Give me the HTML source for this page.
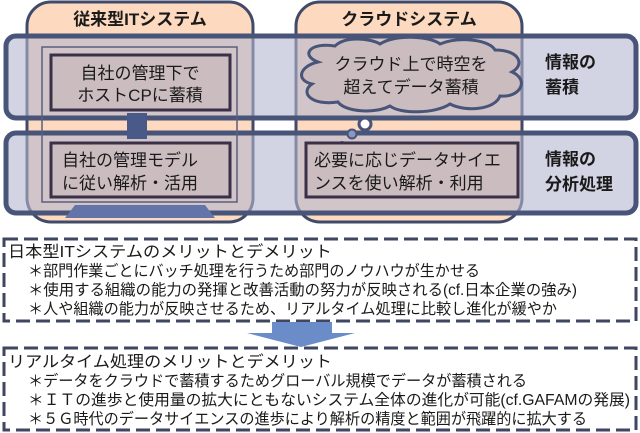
<!DOCTYPE html>
<html><head><meta charset="utf-8"><style>
body{margin:0;background:#fff;width:640px;height:433px;overflow:hidden}
svg{display:block}
text{font-family:"Liberation Sans","Noto Sans CJK JP",sans-serif;fill:#1a1a1a}
</style></head><body>
<svg width="640" height="433" viewBox="0 0 640 433">
<rect x="27" y="2" width="226" height="220" rx="24" fill="#fcd9bf" stroke="#404a6a" stroke-width="3"/>
<rect x="296" y="2" width="226" height="220" rx="24" fill="#fcd9bf" stroke="#404a6a" stroke-width="3"/>
<text x="140" y="25" font-size="17" font-weight="bold" text-anchor="middle">従来型ITシステム</text>
<text x="409" y="25" font-size="17" font-weight="bold" text-anchor="middle">クラウドシステム</text>
<rect x="6" y="36" width="630" height="82" rx="10" fill="#b4b8d0" fill-opacity="0.6" stroke="#485478" stroke-width="5"/>
<rect x="6" y="133" width="630" height="80" rx="10" fill="#b4b8d0" fill-opacity="0.6" stroke="#485478" stroke-width="5"/>
<rect x="42" y="47" width="195" height="155" fill="none" stroke="#5a5f7a" stroke-width="1.5"/>
<polygon points="75,205 205,205 215,218 65,218" fill="#6274a8"/>
<rect x="127" y="113" width="20" height="26" fill="#4a5a88"/>
<rect x="51" y="55" width="179" height="55" fill="#cbbcc0" stroke="#3a3048" stroke-width="3"/>
<rect x="51" y="143" width="179" height="54" fill="#cbbcc0" stroke="#3a3048" stroke-width="3"/>
<text x="140" y="79" font-size="17" text-anchor="middle">自社の管理下で</text>
<text x="140" y="101" font-size="17" text-anchor="middle">ホストCPに蓄積</text>
<text x="62" y="166" font-size="17">自社の管理モデル</text>
<text x="62" y="189" font-size="17">に従い解析・活用</text>
<path d="M318,62 C300,55 310,42 335,46 C345,36 370,38 380,44 C395,34 430,36 440,44 C460,36 490,40 495,50 C520,50 525,65 512,72 C530,80 520,98 500,96 C495,110 465,112 450,104 C435,114 400,114 390,106 C375,114 345,112 338,102 C310,106 300,92 312,84 C295,80 300,66 318,62 Z" fill="#cbbcc0" stroke="#485478" stroke-width="3"/>
<circle cx="365" cy="124" r="6" fill="#fff" stroke="#485478" stroke-width="3"/>
<circle cx="352" cy="134" r="4.5" fill="#8a98c0" stroke="#485478" stroke-width="2"/>
<circle cx="342" cy="145" r="4" fill="#485478"/>
<text x="411" y="70" font-size="17" text-anchor="middle">クラウド上で時空を</text>
<text x="411" y="93" font-size="17" text-anchor="middle">超えてデータ蓄積</text>
<rect x="306" y="143" width="212" height="54" fill="#cbbcc0" stroke="#3a3048" stroke-width="3"/>
<text x="314" y="166" font-size="17">必要に応じデータサイエ</text>
<text x="314" y="189" font-size="17">ンスを使い解析・利用</text>
<text x="545" y="68" font-size="17" font-weight="bold">情報の</text>
<text x="545" y="93" font-size="17" font-weight="bold">蓄積</text>
<text x="545" y="165" font-size="17" font-weight="bold">情報の</text>
<text x="545" y="190" font-size="17" font-weight="bold">分析処理</text>
<rect x="4" y="239" width="632" height="82" fill="#fff" stroke="#3e4660" stroke-width="3" stroke-dasharray="14,6"/>
<text x="8" y="257" font-size="16" textLength="324" lengthAdjust="spacingAndGlyphs">日本型ITシステムのメリットとデメリット</text>
<text x="28" y="276" font-size="15.5" textLength="452" lengthAdjust="spacingAndGlyphs">＊部門作業ごとにバッチ処理を行うため部門のノウハウが生かせる</text>
<text x="28" y="295" font-size="15.5" textLength="549" lengthAdjust="spacingAndGlyphs">＊使用する組織の能力の発揮と改善活動の努力が反映される(cf.日本企業の強み)</text>
<text x="28" y="314" font-size="15.5" textLength="529" lengthAdjust="spacingAndGlyphs">＊人や組織の能力が反映させるため、リアルタイム処理に比較し進化が緩やか</text>
<polygon points="272,322 332,322 332,333 355,333 301,347 247,333 272,333" fill="#6a8cc8"/>
<rect x="4" y="348" width="632" height="82" fill="#fff" stroke="#3e4660" stroke-width="3" stroke-dasharray="14,6"/>
<text x="8" y="367" font-size="16" textLength="324" lengthAdjust="spacingAndGlyphs">リアルタイム処理のメリットとデメリット</text>
<text x="28" y="386" font-size="15.5" textLength="499" lengthAdjust="spacingAndGlyphs">＊データをクラウドで蓄積するためグローバル規模でデータが蓄積される</text>
<text x="28" y="405" font-size="15.5" textLength="602" lengthAdjust="spacingAndGlyphs">＊ＩＴの進歩と使用量の拡大にともないシステム全体の進化が可能(cf.GAFAMの発展)</text>
<text x="28" y="424" font-size="15.5" textLength="559" lengthAdjust="spacingAndGlyphs">＊５Ｇ時代のデータサイエンスの進歩により解析の精度と範囲が飛躍的に拡大する</text>
</svg>
</body></html>
